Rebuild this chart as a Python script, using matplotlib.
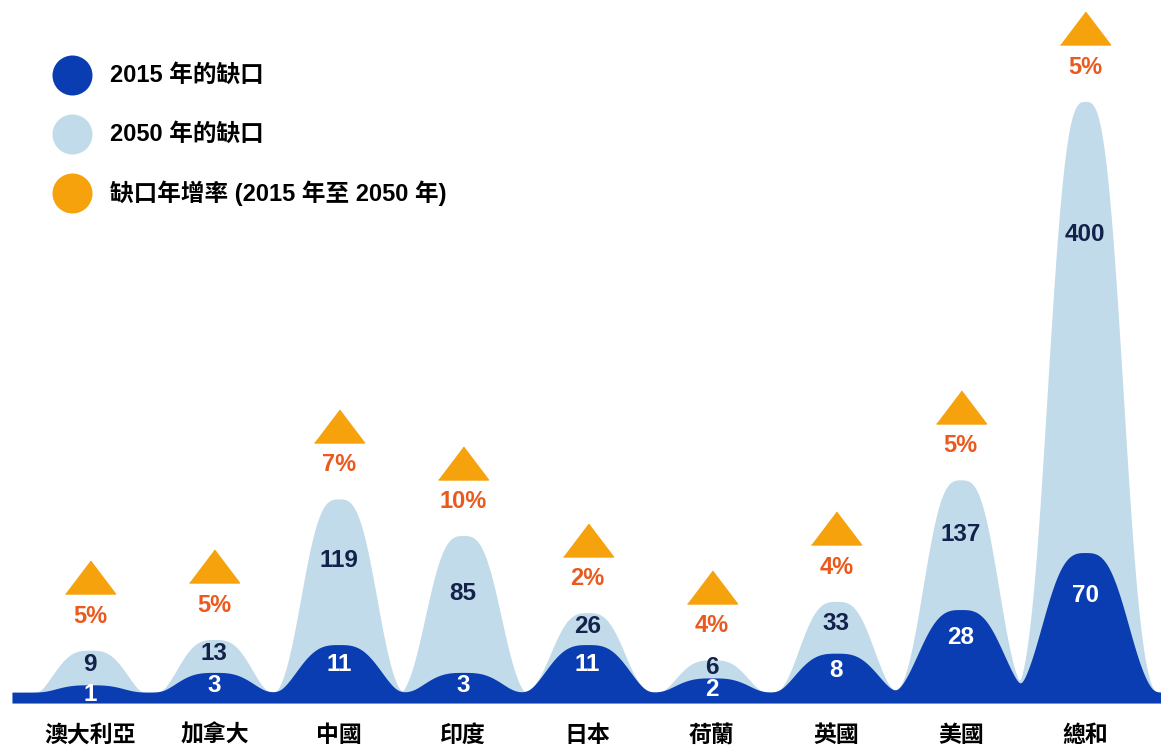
import numpy as np
import matplotlib
matplotlib.use("Agg")
import matplotlib.pyplot as plt
from matplotlib.transforms import offset_copy

plt.rcParams['font.family'] = ['Liberation Sans', 'Noto Sans CJK TC']

countries = ['澳大利亞', '加拿大', '中國', '印度', '日本', '荷蘭', '英國', '美國', '總和']
gap_2015 = [1, 3, 11, 3, 11, 2, 8, 28, 70]
gap_2050 = [9, 13, 119, 85, 26, 6, 33, 137, 400]
growth = ['5%', '5%', '7%', '10%', '2%', '4%', '4%', '5%', '5%']

DARK = '#0b3db2'
LIGHT = '#c1dbea'
ORANGE = '#f5a20c'
PCT = '#ea5a1e'
NAVY = '#13224a'

PX_PER_UNIT = 17.6      # pixels per unit of the transformed y scale
PT = 0.72               # points per pixel at dpi=100


# square-root style display scale, stretched for the largest values
def fwd(v):
    v = np.clip(np.asarray(v, dtype=float), 0, None)
    return np.sqrt(v) * (1 + (v / 475.0) ** 2)


_grid = np.linspace(0, 3000, 60001)
_fgrid = fwd(_grid)


def inv(s):
    return np.interp(s, _fgrid, _grid)


def soft_max(arrs, p):
    return np.sum([a ** p for a in arrs], axis=0) ** (1.0 / p)


def humps(x, vals, width, floor, p):
    parts = [np.full_like(x, floor)]
    for i, v in enumerate(vals):
        parts.append(fwd(v) * np.exp(-np.abs((x - i) / width) ** 3))
    return soft_max(parts, p)


fig = plt.figure(figsize=(11.61, 7.45), dpi=100)
ax = fig.add_axes([0, 42 / 745, 1, 703 / 745])
ax.set_yscale('function', functions=(fwd, inv))

x = np.linspace(-0.627, 8.62, 3000)
s_dark = humps(x, gap_2015, 0.40, fwd(0.38), 4)
s_light = humps(x, gap_2050, 0.35, 0.0, 6)
s_light = soft_max([s_light, s_dark], 8)

ax.fill_between(x, 0, inv(s_light), color=LIGHT, lw=0)
ax.fill_between(x, 0, inv(s_dark), color=DARK, lw=0)

ax.set_xlim(-90 / 124.4, (1161 - 90) / 124.4)
ax.set_ylim(0, inv(703 / PX_PER_UNIT))

tri = [(-25, -16.5), (25, -16.5), (0, 16.5)]
for i in range(len(countries)):
    h15 = fwd(gap_2015[i]) * PX_PER_UNIT
    h50 = fwd(gap_2050[i]) * PX_PER_UNIT

    # 2015 value inside the dark hump
    off15 = 0.25 * h15 + 5
    ax.annotate(str(gap_2015[i]), (i, gap_2015[i]), xytext=(0, -off15 * PT),
                textcoords='offset points', ha='center', va='center',
                color='white', fontsize=17.5, fontweight='bold')

    # 2050 value in the light hump
    off50 = min(0.42 * (h50 - h15), 133)
    ax.annotate(str(gap_2050[i]), (i, gap_2050[i]), xytext=(0, -off50 * PT),
                textcoords='offset points', ha='center', va='center',
                color=NAVY, fontsize=17.5, fontweight='bold')

    # growth rate and triangle above each peak
    ax.annotate(growth[i], (i, gap_2050[i]), xytext=(0, 34 * PT),
                textcoords='offset points', ha='center', va='center',
                color=PCT, fontsize=17, fontweight='bold')
    tr = offset_copy(ax.transData, fig=fig, x=0, y=73 * PT, units='points')
    ax.plot(i, gap_2050[i], marker=tri, ms=36, color=ORANGE, ls='none',
            transform=tr, clip_on=False)

ax.set_xticks(range(len(countries)), countries, fontsize=16.5, fontweight='bold')
ax.tick_params(axis='x', length=0, pad=15)
ax.set_yticks([])
ax.yaxis.set_minor_locator(matplotlib.ticker.NullLocator())
for sp in ax.spines.values():
    sp.set_visible(False)
ax.patch.set_alpha(0)

# legend drawn in pixel coordinates on an overlay
lax = fig.add_axes([0, 0, 1, 1])
lax.set_xlim(0, 1161)
lax.set_ylim(745, 0)
lax.axis('off')
legend_items = [(DARK, '2015 年的缺口'),
                (LIGHT, '2050 年的缺口'),
                (ORANGE, '缺口年增率 (2015 年至 2050 年)')]
for k, (c, lbl) in enumerate(legend_items):
    yy = 75 + 59 * k
    lax.scatter([72], [yy], s=(40 * PT) ** 2, color=c, lw=0)
    lax.text(110, yy, lbl, ha='left', va='center', fontsize=17,
             fontweight='bold', color='black')

fig.savefig('out.png', dpi=100)
